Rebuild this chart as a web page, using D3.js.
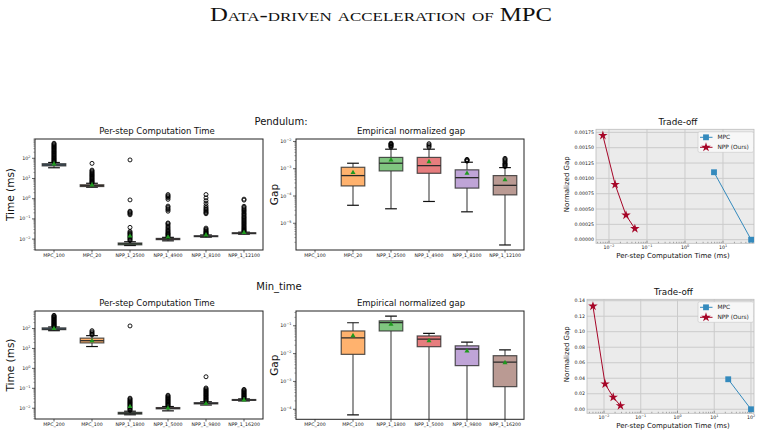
<!DOCTYPE html>
<html><head><meta charset="utf-8">
<script src="https://cdn.jsdelivr.net/npm/d3@7"></script>
<style>body{margin:0;background:#fff} svg{display:block} text{font-family:"DejaVu Sans",sans-serif}</style>
</head><body>
<svg id="c" width="765" height="437"></svg>
<script>
// ---------------- DATA ----------------
const pendCats = ["MPC_100","MPC_20","NPP_1_2500","NPP_1_4900","NPP_1_8100","NPP_1_12100"];
const minCats  = ["MPC_200","MPC_100","NPP_1_1800","NPP_1_5000","NPP_1_9800","NPP_1_16200"];

// box stats: [lowerWhisker, q1, median, q3, upperWhisker] (ms)
const pendTimeStats = [
  [34, 42, 47, 54, 62],
  [3.7, 4.0, 4.4, 4.9, 5.8],
  [0.0048, 0.0052, 0.0058, 0.0064, 0.0074],
  [0.0082, 0.0094, 0.0101, 0.0108, 0.0122],
  [0.0125, 0.0132, 0.0138, 0.0146, 0.016],
  [0.0175, 0.0185, 0.0195, 0.0205, 0.022]
];
const pendTimeMeans = [52, 4.8, 0.014, 0.0125, 0.016, 0.021];
const pendTimeFliers = [
  [66,71,77,84,92,100,110,121,133,146,160,176,194,213,234,258,284,312,343,378,416,458,504,555],
  [6.1,6.6,7.2,7.9,8.7,9.6,10.5,11.6,12.8,14.1,15.5,17.2,19.0,21.0,23.5,26,56],
  [0.0085,0.0095,0.0107,0.012,0.0135,0.015,0.017,0.019,0.021,0.024,0.038,0.16,0.18,0.2,0.22,0.24,0.87,83],
  [0.0132,0.0145,0.016,0.0175,0.019,0.021,0.024,0.027,0.031,0.036,0.042,0.05,0.058,0.063,0.24,0.28,0.32,0.38,0.43,0.93,1.1,1.25,1.4,1.6],
  [0.0168,0.018,0.0195,0.021,0.023,0.025,0.028,0.031,0.035,0.18,0.2,0.22,0.25,0.28,0.32,0.37,0.45,0.6,0.8,1.1,1.6],
  [0.0232,0.025,0.027,0.03,0.033,0.037,0.041,0.046,0.052,0.058,0.065,0.073,0.082,0.092,0.104,0.117,0.13,0.15,0.17,0.19,0.22,0.25,0.28,0.32,0.37,0.42,0.85,0.95]
];

const pendGapStats = [
  null,
  [0.0000457, 0.000234, 0.00056, 0.00113, 0.00159],
  [0.000034, 0.00083, 0.00159, 0.0026, 0.0052],
  [0.000063, 0.00068, 0.0013, 0.0026, 0.0052],
  [0.0000263, 0.000195, 0.00047, 0.00091, 0.00173],
  [0.0000016, 0.00011, 0.000246, 0.00056, 0.0011]
];
const pendGapMeans = [null, 0.00072, 0.0021, 0.0018, 0.00068, 0.00039];
const pendGapFliers = [
  [], [],
  [0.0062,0.0066,0.007,0.0074,0.0078,0.0082,0.0086],
  [0.0062,0.0068,0.0075,0.0083],
  [0.0019,0.002,0.0021,0.0022],
  [0.0012,0.0013,0.0014,0.0015,0.0016,0.0018,0.002,0.0022,0.0024]
];

const minTimeStats = [
  [78, 88, 95, 108, 120],
  [12.5, 19, 24.5, 33, 44],
  [0.0047, 0.0051, 0.0056, 0.0062, 0.0071],
  [0.0074, 0.0093, 0.0100, 0.0108, 0.0122],
  [0.0145, 0.0165, 0.0176, 0.019, 0.0212],
  [0.0232, 0.0248, 0.026, 0.0274, 0.0295]
];
const minTimeMeans = [100, 24, 0.012, 0.0102, 0.0172, 0.026];
const minTimeFliers = [
  [126,134,143,153,164,176,189,203,218,235,253,272,293,316,340,366,394,424,460],
  [48,53,60,68,78],
  [0.0078,0.0086,0.0095,0.0105,0.0116,0.0128,0.0142,0.0157,0.0174,0.0192,0.0212,0.0235,0.026,0.029,0.032,135],
  [0.0131,0.0142,0.0155,0.0168,0.0183,0.02,0.0218,0.0238,0.026,0.0284,0.031,0.034,0.037,0.041,0.045],
  [0.0228,0.025,0.0274,0.03,0.033,0.036,0.04,0.044,0.048,0.053,0.058,0.064,0.07,0.077,0.085,0.094,0.104,0.38],
  [0.0318,0.0345,0.0375,0.0405,0.044,0.048,0.052,0.057,0.062,0.068,0.074,0.081,0.088]
];

const minGapStats = [
  null,
  [0.000063, 0.0094, 0.037, 0.065, 0.128],
  [1e-7, 0.065, 0.13, 0.15, 0.22],
  [1e-7, 0.0177, 0.033, 0.043, 0.053],
  [1e-7, 0.0037, 0.0146, 0.019, 0.026],
  [1e-7, 0.00065, 0.0049, 0.0084, 0.0135]
];
const minGapMeans = [null, 0.044, 0.112, 0.029, 0.0124, 0.0047];
const minGapFliers = [[], [], [], [], [], []];

// trade-off
const pendMpcTime = [5.8, 55],   pendMpcGap = [0.0011, 0.0];
const pendNppTime = [0.0069, 0.0145, 0.028, 0.048], pendNppGap = [0.0017, 0.0009, 0.0004, 0.00018];
const minMpcTime  = [24, 100],   minMpcGap  = [0.0387, 0.0];
const minNppTime  = [0.005, 0.0107, 0.0178, 0.028], minNppGap = [0.133, 0.0326, 0.0155, 0.0046];
const pendGapTicks = [0, 0.00025, 0.0005, 0.00075, 0.001, 0.00125, 0.0015, 0.00175];
const minGapTicks  = [0, 0.02, 0.04, 0.06, 0.08, 0.1, 0.12, 0.14];

const boxColors = ["#79add2","#ffb26e","#80c680","#e67d7e","#bfa4d7","#ba9a93"];
const mpcColor = "#348ABD", nppColor = "#A60628";

// ---------------- DRAW ----------------
const svg = d3.select("#c");
let clipN = 0;

function supLabel(sel, x, y, exp, anchor, fs) {
  const t = sel.append("text").attr("x", x).attr("y", y).attr("text-anchor", anchor)
    .attr("font-size", fs).attr("fill", "#222");
  t.append("tspan").text("10");
  t.append("tspan").attr("dy", -fs * 0.45).attr("font-size", fs * 0.72)
    .text(exp < 0 ? "\u2212" + (-exp) : String(exp));
}

function boxPanel(o) {
  const g = svg.append("g");
  const x = d3.scalePoint().domain(o.cats).range([o.x0, o.x1]).padding(0.5);
  const y = d3.scaleLog().domain(o.dom).range([o.y1, o.y0]);
  const step = x.step(), bw = step * 0.62, cw = bw / 2;
  const id = "clip" + (clipN++);
  g.append("clipPath").attr("id", id).append("rect")
    .attr("x", o.x0).attr("y", o.y0).attr("width", o.x1 - o.x0).attr("height", o.y1 - o.y0);
  const body = g.append("g").attr("clip-path", `url(#${id})`);
  o.cats.forEach((c, i) => {
    const s = o.stats[i]; if (!s) return;
    const cx = x(c);
    body.append("line").attr("x1", cx).attr("x2", cx).attr("y1", y(s[0])).attr("y2", y(s[1]))
      .attr("stroke", "#333").attr("stroke-width", 1.2).attr("stroke-opacity", 0.85);
    body.append("line").attr("x1", cx).attr("x2", cx).attr("y1", y(s[3])).attr("y2", y(s[4]))
      .attr("stroke", "#333").attr("stroke-width", 1.2).attr("stroke-opacity", 0.85);
    [s[0], s[4]].forEach(v => body.append("line").attr("x1", cx - cw / 2).attr("x2", cx + cw / 2)
      .attr("y1", y(v)).attr("y2", y(v)).attr("stroke", "#111").attr("stroke-width", 1.2));
    body.append("rect").attr("x", cx - bw / 2).attr("width", bw)
      .attr("y", y(s[3])).attr("height", Math.max(0.5, y(s[1]) - y(s[3])))
      .attr("fill", boxColors[i]).attr("stroke", "#2a2a2a").attr("stroke-width", 1.2).attr("stroke-opacity", 0.8);
    body.append("line").attr("x1", cx - bw / 2).attr("x2", cx + bw / 2).attr("y1", y(s[2])).attr("y2", y(s[2]))
      .attr("stroke", "#2a2a2a").attr("stroke-width", 1.3);
    o.fliers[i].forEach(v => body.append("circle").attr("cx", cx).attr("cy", y(v)).attr("r", 2)
      .attr("fill", "none").attr("stroke", "#000").attr("stroke-width", 0.9));
    if (o.means[i] != null)
      body.append("path").attr("d", d3.symbol(d3.symbolTriangle, 11)())
        .attr("transform", `translate(${cx},${y(o.means[i])})`).attr("fill", "#1f9a1f");
  });
  g.append("rect").attr("x", o.x0).attr("y", o.y0).attr("width", o.x1 - o.x0).attr("height", o.y1 - o.y0)
    .attr("fill", "none").attr("stroke", "#222").attr("stroke-width", 1);
  const lo = Math.floor(Math.log10(o.dom[0])), hi = Math.ceil(Math.log10(o.dom[1]));
  for (let p = lo; p <= hi; p++) {
    const v = Math.pow(10, p);
    if (v >= o.dom[0] && v <= o.dom[1]) {
      g.append("line").attr("x1", o.x0 - 3).attr("x2", o.x0).attr("y1", y(v)).attr("y2", y(v))
        .attr("stroke", "#222").attr("stroke-width", 0.7);
      supLabel(g, o.x0 - 4.5, y(v) + 1.6, p, "end", 4.8);
    }
    for (let k = 2; k <= 9; k++) {
      const m = k * v;
      if (m >= o.dom[0] && m <= o.dom[1])
        g.append("line").attr("x1", o.x0 - 1.6).attr("x2", o.x0).attr("y1", y(m)).attr("y2", y(m))
          .attr("stroke", "#444").attr("stroke-width", 0.5);
    }
  }
  o.cats.forEach(c => {
    g.append("line").attr("x1", x(c)).attr("x2", x(c)).attr("y1", o.y1).attr("y2", o.y1 + 2.5)
      .attr("stroke", "#222").attr("stroke-width", 0.7);
    g.append("text").attr("x", x(c)).attr("y", o.y1 + 7).attr("text-anchor", "middle")
      .attr("font-size", 4.7).attr("fill", "#222").text(c);
  });
  g.append("text").attr("x", o.titleX).attr("y", o.y0 - 5.5).attr("text-anchor", "middle")
    .attr("font-size", 8.5).attr("fill", "#111").text(o.title);
  g.append("text").attr("transform", `translate(${o.ylabX},${(o.y0 + o.y1) / 2}) rotate(-90)`)
    .attr("text-anchor", "middle").attr("dy", "0.35em").attr("font-size", 10.5).attr("fill", "#111").text(o.ylab);
}

function tradePanel(o) {
  const g = svg.append("g");
  const x = d3.scaleLog().domain(o.xdom).range([o.x0, o.x1]);
  const y = d3.scaleLinear().domain(o.ydom).range([o.y1, o.y0]);
  g.append("rect").attr("x", o.x0).attr("y", o.y0).attr("width", o.x1 - o.x0).attr("height", o.y1 - o.y0)
    .attr("fill", "#ebebeb");
  o.yticks.forEach(v => {
    g.append("line").attr("x1", o.x0).attr("x2", o.x1).attr("y1", y(v)).attr("y2", y(v))
      .attr("stroke", "#cbcbcb").attr("stroke-width", 1);
    g.append("text").attr("x", o.x0 - 2).attr("y", y(v) + 1.6).attr("text-anchor", "end")
      .attr("font-size", 4.7).attr("fill", "#222").text(o.yfmt(v));
  });
  o.xticks.forEach(p => {
    const v = Math.pow(10, p);
    g.append("line").attr("x1", x(v)).attr("x2", x(v)).attr("y1", o.y0).attr("y2", o.y1)
      .attr("stroke", "#cbcbcb").attr("stroke-width", 1);
    supLabel(g, x(v), o.y1 + 5.5, p, "middle", 4.7);
  });
  const lo = Math.floor(Math.log10(o.xdom[0])), hi = Math.ceil(Math.log10(o.xdom[1]));
  for (let p = lo; p <= hi; p++) for (let k = 1; k <= 9; k++) {
    const m = k * Math.pow(10, p);
    if (m >= o.xdom[0] && m <= o.xdom[1])
      g.append("line").attr("x1", x(m)).attr("x2", x(m)).attr("y1", o.y1 - (k === 1 ? 2.5 : 1.5)).attr("y2", o.y1)
        .attr("stroke", "#555").attr("stroke-width", 0.5);
  }
  g.append("rect").attr("x", o.x0).attr("y", o.y0).attr("width", o.x1 - o.x0).attr("height", o.y1 - o.y0)
    .attr("fill", "none").attr("stroke", "#bcbcbc").attr("stroke-width", 0.8);
  const line = d3.line().x(d => x(d[0])).y(d => y(d[1]));
  const mpc = o.mpcT.map((t, i) => [t, o.mpcG[i]]);
  const npp = o.nppT.map((t, i) => [t, o.nppG[i]]);
  g.append("path").attr("d", line(mpc)).attr("fill", "none").attr("stroke", mpcColor).attr("stroke-width", 1);
  g.append("path").attr("d", line(npp)).attr("fill", "none").attr("stroke", nppColor).attr("stroke-width", 1);
  mpc.forEach(d => g.append("path").attr("d", d3.symbol(d3.symbolSquare, 34)())
    .attr("transform", `translate(${x(d[0])},${y(d[1])})`).attr("fill", mpcColor));
  npp.forEach(d => g.append("path").attr("d", d3.symbol(d3.symbolStar, 28)())
    .attr("transform", `translate(${x(d[0])},${y(d[1])})`).attr("fill", nppColor));
  const lx = o.x1 - 56, ly = o.y0 + 2.5;
  g.append("rect").attr("x", lx).attr("y", ly).attr("width", 55.5).attr("height", 20.5).attr("rx", 1.5)
    .attr("fill", "#f7f7f7").attr("stroke", "#c8c8c8").attr("stroke-width", 0.6);
  [[mpcColor, "MPC", d3.symbolSquare, 34], [nppColor, "NPP (Ours)", d3.symbolStar, 28]].forEach((e, i) => {
    const yy = ly + 5.5 + i * 10;
    g.append("line").attr("x1", lx + 2).attr("x2", lx + 14.5).attr("y1", yy).attr("y2", yy)
      .attr("stroke", e[0]).attr("stroke-width", 1);
    g.append("path").attr("d", d3.symbol(e[2], e[3])()).attr("transform", `translate(${lx + 8},${yy})`).attr("fill", e[0]);
    g.append("text").attr("x", lx + 19.5).attr("y", yy + 2).attr("font-size", 5.8).attr("fill", "#222").text(e[1]);
  });
  g.append("text").attr("x", (o.x0 + o.x1) / 2 + 3).attr("y", o.y0 - 4.5).attr("text-anchor", "middle")
    .attr("font-size", 8.8).attr("fill", "#111").text("Trade-off");
  g.append("text").attr("x", 673).attr("y", o.y1 + 15).attr("text-anchor", "middle")
    .attr("font-size", 7).attr("fill", "#111").text("Per-step Computation Time (ms)");
  g.append("text").attr("transform", `translate(567,${(o.y0 + o.y1) / 2 - 2}) rotate(-90)`)
    .attr("text-anchor", "middle").attr("dy", "0.35em").attr("font-size", 7).attr("fill", "#111").text("Normalized Gap");
}

svg.append("text").attr("x", 381).attr("y", 21).attr("text-anchor", "middle")
  .attr("textLength", 342).attr("lengthAdjust", "spacingAndGlyphs")
  .style("font-family", "'Liberation Serif','DejaVu Serif',serif").style("font-variant", "small-caps")
  .attr("font-size", 19).attr("fill", "#111").text("Data-driven acceleration of MPC");

svg.append("text").attr("x", 281).attr("y", 125).attr("text-anchor", "middle").attr("font-size", 10)
  .attr("fill", "#111").text("Pendulum:");
svg.append("text").attr("x", 279).attr("y", 290).attr("text-anchor", "middle").attr("font-size", 10)
  .attr("fill", "#111").text("Min_time");

boxPanel({cats: pendCats, stats: pendTimeStats, means: pendTimeMeans, fliers: pendTimeFliers,
  x0: 35, x1: 263, y0: 139, y1: 250, dom: [Math.pow(10, -2.54), Math.pow(10, 2.955)],
  title: "Per-step Computation Time", titleX: 157, ylab: "Time (ms)", ylabX: 10});
boxPanel({cats: pendCats, stats: pendGapStats, means: pendGapMeans, fliers: pendGapFliers,
  x0: 296, x1: 524, y0: 139, y1: 250, dom: [Math.pow(10, -5.98), Math.pow(10, -1.91)],
  title: "Empirical normalized gap", titleX: 411, ylab: "Gap", ylabX: 274});
boxPanel({cats: minCats, stats: minTimeStats, means: minTimeMeans, fliers: minTimeFliers,
  x0: 35, x1: 263, y0: 311, y1: 419, dom: [Math.pow(10, -2.54), Math.pow(10, 2.88)],
  title: "Per-step Computation Time", titleX: 157, ylab: "Time (ms)", ylabX: 10});
boxPanel({cats: minCats, stats: minGapStats, means: minGapMeans, fliers: minGapFliers,
  x0: 296, x1: 524, y0: 311, y1: 419.3, dom: [Math.pow(10, -4.36), Math.pow(10, -0.47)],
  title: "Empirical normalized gap", titleX: 411, ylab: "Gap", ylabX: 274});

tradePanel({x0: 596, x1: 754, y0: 129.3, y1: 243.3,
  xdom: [Math.pow(10, -2.342), Math.pow(10, 1.816)], ydom: [-0.0000587, 0.0018],
  yticks: pendGapTicks, yfmt: d3.format(".5f"), xticks: [-2, -1, 0, 1],
  mpcT: pendMpcTime, mpcG: pendMpcGap, nppT: pendNppTime, nppG: pendNppGap});
tradePanel({x0: 587, x1: 754, y0: 299.3, y1: 413.3,
  xdom: [Math.pow(10, -2.463), Math.pow(10, 2.082)], ydom: [-0.0052, 0.1418],
  yticks: minGapTicks, yfmt: d3.format(".2f"), xticks: [-2, -1, 0, 1, 2],
  mpcT: minMpcTime, mpcG: minMpcGap, nppT: minNppTime, nppG: minNppGap});
</script>
</body></html>
